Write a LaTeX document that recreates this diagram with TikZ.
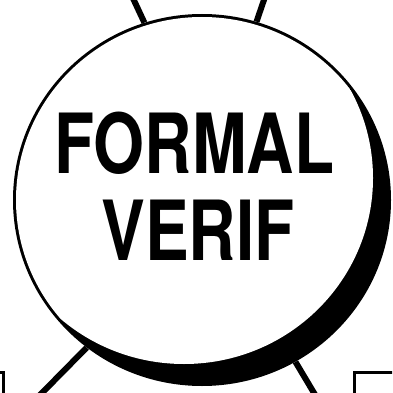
\documentclass[tikz,border=0pt]{standalone}
\usepackage{fontspec}
\setmainfont{TeX Gyre Heros}
\usepackage{graphicx}
\usetikzlibrary{shapes.geometric}
\begin{document}
\begin{tikzpicture}[x=1pt,y=-1pt,
  conn/.style={line width=6pt},
  boxline/.style={draw, line width=3pt, rectangle, inner sep=0pt},
  bigtext/.style={inner sep=0pt, font=\fontsize{83}{83}\selectfont\bfseries, anchor=base}]
\useasboundingbox (0,0) rectangle (392,393);
\clip (0,0) rectangle (392,393);
\node[boxline, anchor=north west, minimum width=100pt, minimum height=60pt] (rbox) at (353,371) {};
\node[boxline, anchor=north east, minimum width=60pt, minimum height=60pt] (lbox) at (5,371) {};
\coordinate (tl) at (131,-6);
\coordinate (tr) at (266,-6);
\coordinate (bl) at (37,398);
\coordinate (br) at (317,398);
\node[ellipse, fill=black, inner sep=0pt, minimum width=378pt, minimum height=372pt] (fv) at (202,200) {};
\draw[conn] (fv.108.6) -- (tl);
\draw[conn] (fv.73) -- (tr);
\draw[conn] (fv.232.2) -- (bl);
\draw[conn] (fv.300.6) -- (br);
\begin{scope}
  \clip (202,200) ellipse [x radius=186, y radius=183];
  \fill[white] (184,178) ellipse [x radius=189, y radius=186];
\end{scope}
\node[bigtext] (t1) at (194.5,173) {\scalebox{0.79}[1]{FORMAL}};
\node[bigtext] (t2) at (198,260) {\scalebox{0.79}[1]{VERIF}};
\end{tikzpicture}
\end{document}
